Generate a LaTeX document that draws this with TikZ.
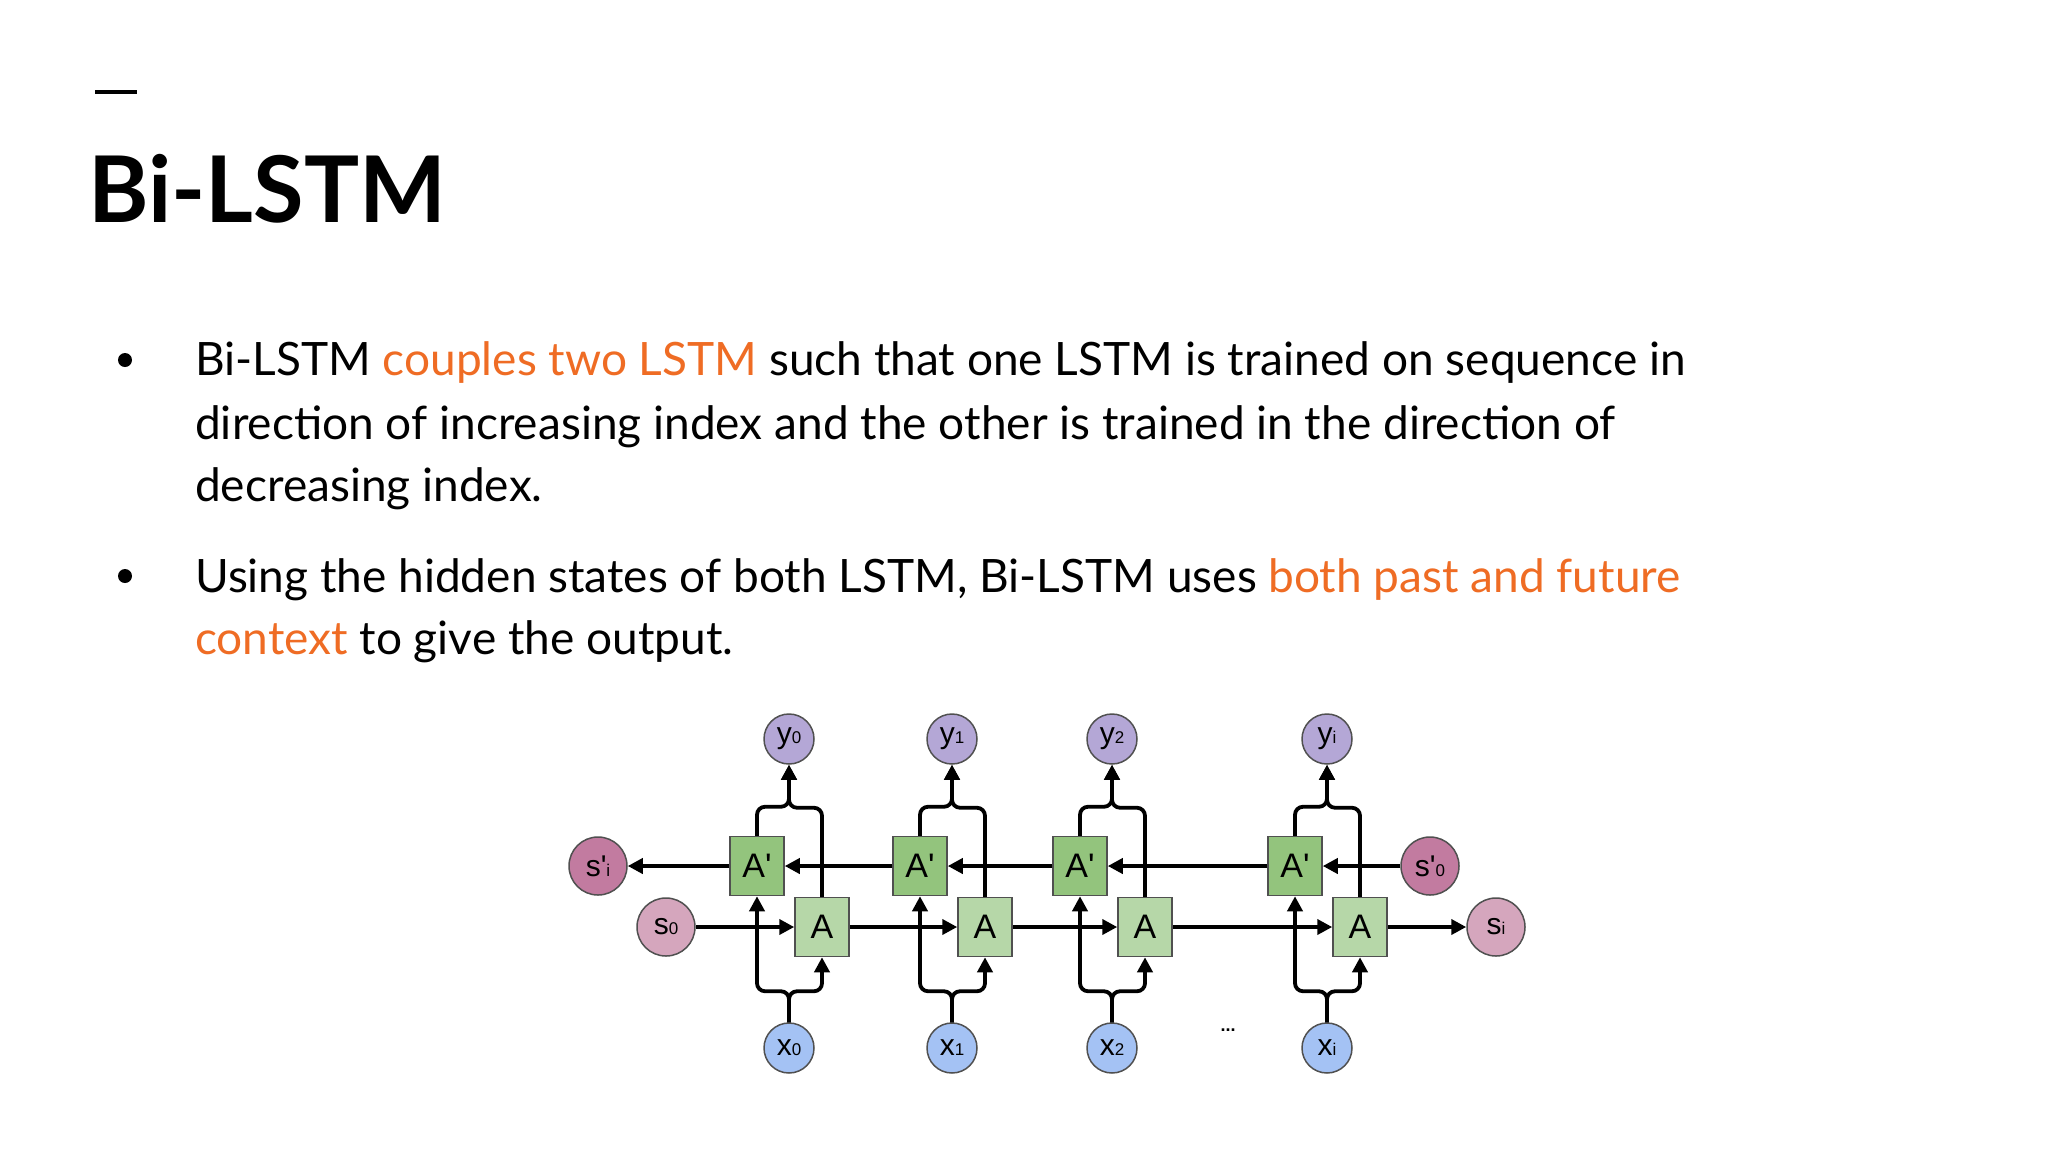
\documentclass[tikz,border=0pt]{standalone}
\usepackage{fontspec}
\setmainfont{Lato}
\newfontfamily\lblfont{Liberation Sans}
\usetikzlibrary{arrows.meta}
\definecolor{orng}{RGB}{239,108,36}
\definecolor{ypur}{RGB}{180,167,214}
\definecolor{xblu}{RGB}{164,194,244}
\definecolor{spink}{RGB}{213,166,189}
\definecolor{sdark}{RGB}{194,123,160}
\definecolor{gdark}{RGB}{147,196,125}
\definecolor{glight}{RGB}{182,215,168}
\definecolor{strk}{RGB}{80,80,80}
\newcommand\subl[1]{{\fontsize{17}{17}\selectfont #1}}
\tikzset{
  circ/.style={circle,draw=strk,line width=1.5pt,minimum size=50pt,inner sep=0pt,font=\lblfont\fontsize{30}{30}\selectfont},
  scirc/.style={circ,minimum size=58pt},
  cell/.style={rectangle,draw=strk,line width=1.5pt,minimum width=54pt,minimum height=59pt,inner sep=0pt,font=\lblfont\fontsize{34}{34}\selectfont},
  conn/.style={line width=3.8pt,-{Triangle[length=15pt,width=15pt]},rounded corners=8pt},
  txt/.style={anchor=base west,inner sep=0pt,font=\fontsize{46}{46}\selectfont},
}
\begin{document}
\begin{tikzpicture}[x=1pt,y=-1pt]
\useasboundingbox (0,0) rectangle (2048,1152);
\fill[white] (0,0) rectangle (2048,1152);
\draw[line width=3.5pt] (95,92) -- (137,92);
\node[anchor=base west,inner sep=0pt,font=\bfseries\fontsize{92}{92}\selectfont] (title) at (88,222) {Bi-LSTM};
\fill (125,360) circle (7);
\fill (125,576) circle (7);
\node[txt] (l1) at (195,375) {Bi-LSTM \textcolor{orng}{couples two LSTM} such that one LSTM is trained on sequence in};
\node[txt] (l2) at (195,439) {direction of increasing index and the other is trained in the direction of};
\node[txt] (l3) at (195,501) {decreasing index.};
\node[txt] (l4) at (195,592) {Using the hidden states of both LSTM, Bi-LSTM uses \textcolor{orng}{both past and future}};
\node[txt] (l5) at (195,654) {\textcolor{orng}{context} to give the output.};
% diagram
\foreach \k/\cx/\s in {1/789/0,2/952/1,3/1112/2,4/1327/i}{
  \node[circ,fill=ypur] (y\k) at (\cx,739) {y\subl{\s}};
  \node[circ,fill=xblu] (x\k) at (\cx,1048) {x\subl{\s}};
  \node[cell,fill=gdark] (Ap\k) at (\cx-32,866) {A'};
  \node[cell,fill=glight] (A\k) at (\cx+33,927) {A};
}
\node[scirc,fill=sdark] (spi) at (598,866) {s'\subl{i}};
\node[scirc,fill=spink] (s0) at (666,927) {s\subl{0}};
\node[scirc,fill=sdark] (sp0) at (1430,866) {s'\subl{0}};
\node[scirc,fill=spink] (si) at (1496,927) {s\subl{i}};
\node[font=\lblfont\bfseries\fontsize{18}{18}\selectfont] (dots) at (1228,1030) {...};
\foreach \k in {1,2,3,4}{
  \draw[conn] (A\k.north) -- ++(0,-89) -| (y\k.south);
  \draw[conn] (Ap\k.north) -- ++(0,-29) -| (y\k.south);
  \draw[conn] (x\k.north) -- ++(0,-31) -| (Ap\k.south);
  \draw[conn] (x\k.north) -- ++(0,-31) -| (A\k.south);
}
\draw[conn] (s0) -- (A1);
\draw[conn] (A1) -- (A2);
\draw[conn] (A2) -- (A3);
\draw[conn] (A3) -- (A4);
\draw[conn] (A4) -- (si);
\draw[conn] (sp0) -- (Ap4);
\draw[conn] (Ap4) -- (Ap3);
\draw[conn] (Ap3) -- (Ap2);
\draw[conn] (Ap2) -- (Ap1);
\draw[conn] (Ap1) -- (spi);
\end{tikzpicture}
\end{document}
